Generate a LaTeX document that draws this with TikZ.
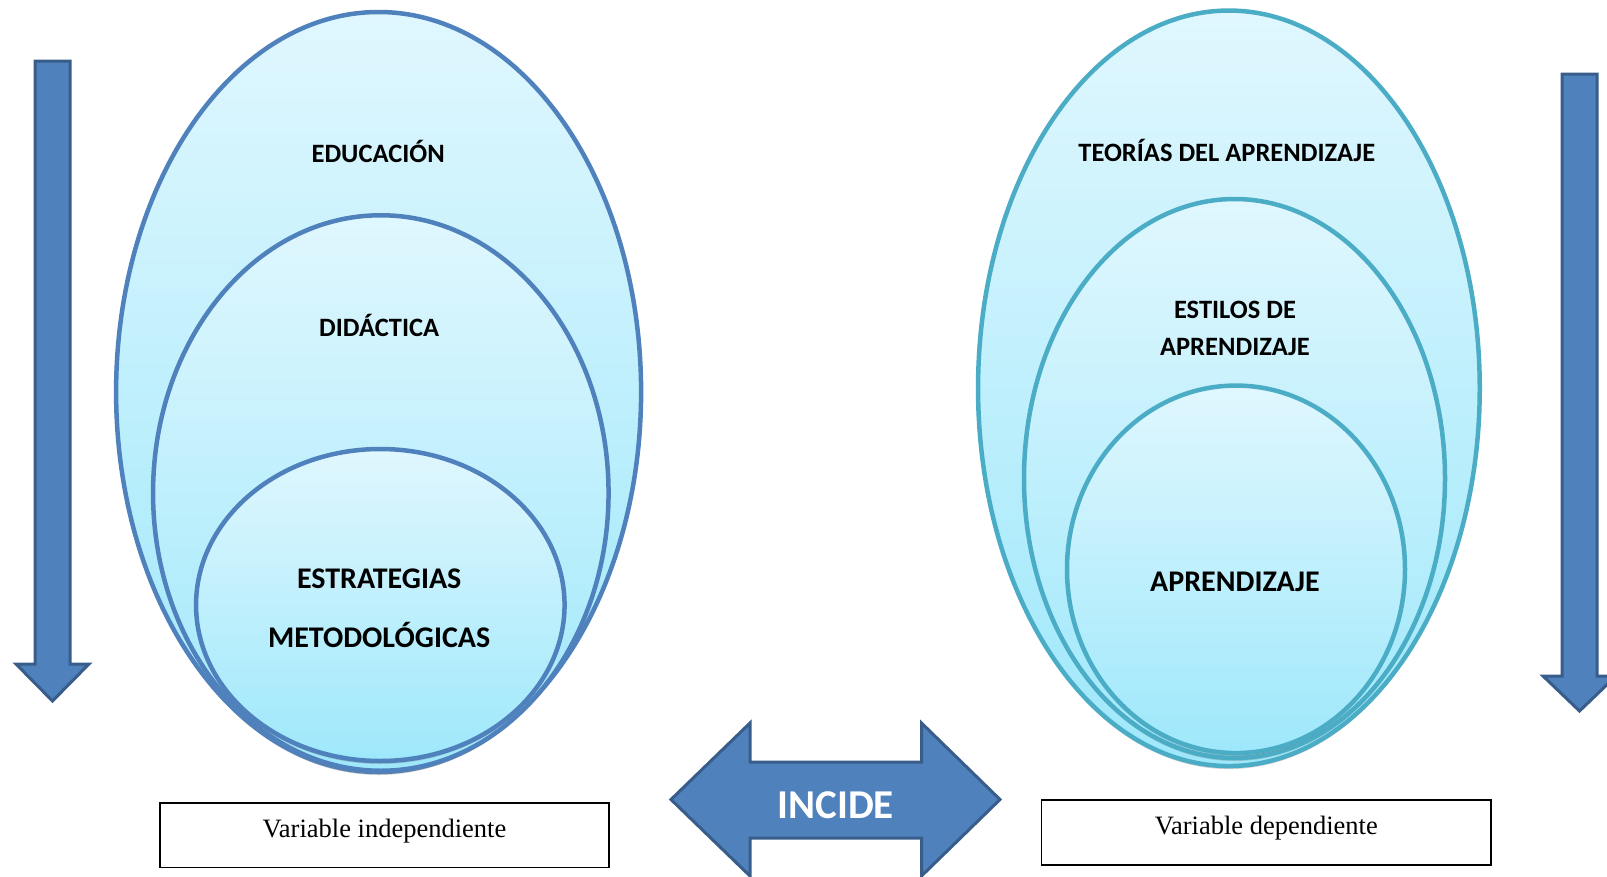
\documentclass[tikz,border=0pt]{standalone}
\usepackage{fontspec}
\setmainfont{Liberation Serif}
\newfontfamily\calib{Carlito}
\usetikzlibrary{shapes.geometric,shadows}
\definecolor{lblue}{RGB}{79,129,189}
\definecolor{aqua}{RGB}{75,172,198}
\definecolor{arrowedge}{RGB}{56,93,138}
\definecolor{ftop}{RGB}{224,247,254}
\definecolor{fbot}{RGB}{158,232,251}
\begin{document}
\begin{tikzpicture}[x=1pt,y=-1pt,
  oval/.style={ellipse, inner sep=0pt, line width=4.5pt, top color=ftop, bottom color=fbot,
    drop shadow={shadow xshift=0pt, shadow yshift=-3pt, opacity=0.35}},
  lbl/.style={font=\calib\bfseries\fontsize{26.5}{31}\selectfont, align=center, inner sep=0pt},
  bigarrow/.style={fill=lblue, draw=arrowedge, line width=3pt, line join=miter},
  varbox/.style={draw=black, line width=1.6pt, fill=white, inner sep=0pt,
    font=\fontsize{26.5}{30}\selectfont}
]
\useasboundingbox (0,0) rectangle (1607,876);

% vertical arrows
\draw[bigarrow] (35,61) -- (70,61) -- (70,664) -- (89,664) -- (52.5,701) -- (16,664) -- (35,664) -- cycle;
\draw[bigarrow] (1562,74) -- (1597,74) -- (1597,676) -- (1616,676) -- (1579.5,711) -- (1543,676) -- (1562,676) -- cycle;

% left ellipses
\node[oval, draw=lblue, minimum width=525pt, minimum height=760pt] (edu) at (378.6,392) {};
\node[oval, draw=lblue, minimum width=455.5pt, minimum height=555.5pt] (did) at (380.8,493) {};
\node[oval, draw=lblue, minimum width=368.5pt, minimum height=312pt] (est) at (380.3,605) {};

\node[lbl] (tedu) at (378.2,151.7) {EDUCACIÓN};
\node[lbl] (tdid) at (379.2,325.9) {DIDÁCTICA};
\node[lbl, font=\calib\bfseries\fontsize{30}{58.5}\selectfont] (test) at (379.2,608.5) {ESTRATEGIAS\\METODOLÓGICAS};

% right ellipses
\node[oval, draw=aqua, minimum width=501.7pt, minimum height=755.5pt] (teo) at (1228.9,388.3) {};
\node[oval, draw=aqua, minimum width=421pt, minimum height=559pt] (sty) at (1234.5,478.5) {};
\node[oval, draw=aqua, minimum width=338pt, minimum height=367.5pt] (apr) at (1236,569.3) {};

\node[lbl] (tteo) at (1226.8,150.7) {TEORÍAS DEL APRENDIZAJE};
\node[lbl, font=\calib\bfseries\fontsize{26.5}{37}\selectfont] (tsty) at (1235,328.5) {ESTILOS DE\\APRENDIZAJE};
\node[lbl, font=\calib\bfseries\fontsize{30}{36}\selectfont] (tapr) at (1235,581.5) {APRENDIZAJE};

% double arrow
\draw[bigarrow] (671,799.5) -- (750,723) -- (750,762) -- (921.5,762) -- (921.5,723) -- (1000,799.5)
  -- (921.5,876) -- (921.5,838) -- (750,838) -- (750,876) -- cycle;
\node[font=\calib\bfseries\fontsize{41}{48}\selectfont, text=white, inner sep=0pt] (incide) at (835.7,805.5) {INCIDE};

% boxes
\node[varbox, minimum width=449pt, minimum height=64.6pt] (vind) at (384.5,835) {};
\node[font=\fontsize{26.5}{30}\selectfont, inner sep=0pt] (tind) at (384.5,831) {Variable independiente};
\node[varbox, minimum width=449.3pt, minimum height=65pt] (vdep) at (1266.3,832.5) {};
\node[font=\fontsize{26.5}{30}\selectfont, inner sep=0pt] (tdep) at (1266.3,828.5) {Variable dependiente};
\end{tikzpicture}
\end{document}
